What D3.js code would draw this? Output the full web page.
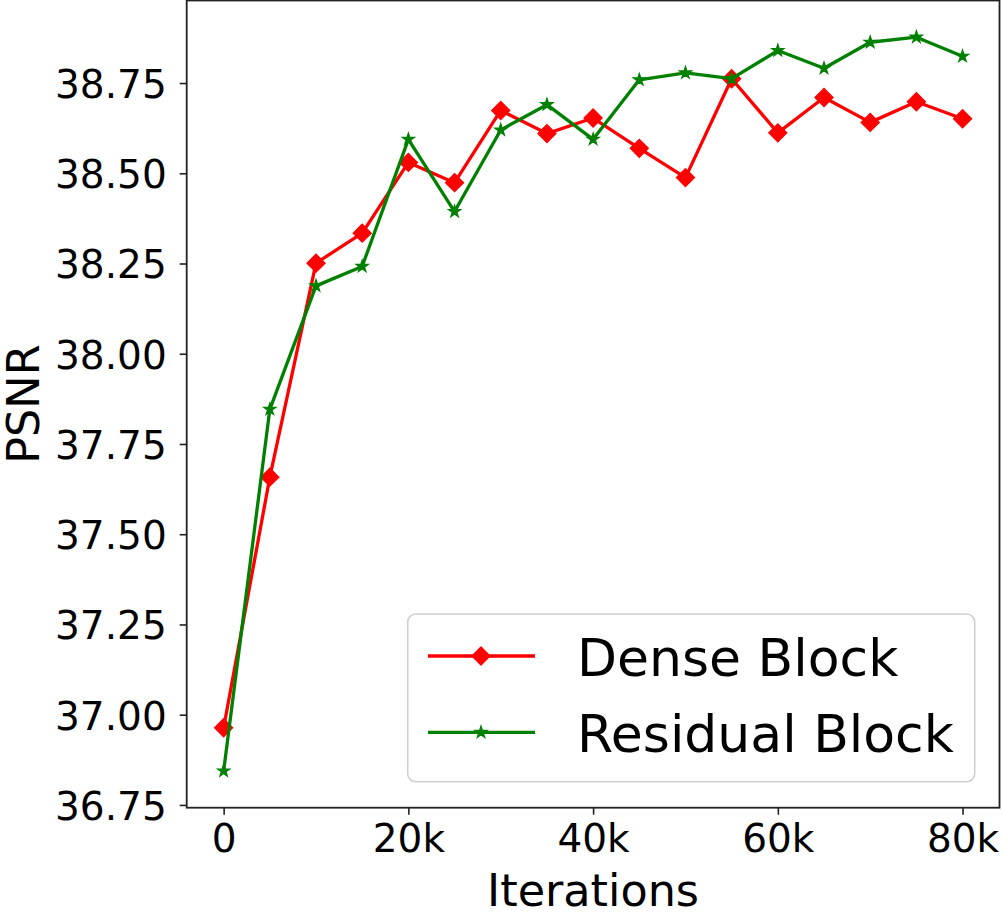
<!DOCTYPE html>
<html lang="en">
<head>
<meta charset="UTF-8">
<title>PSNR vs Iterations</title>
<style>
  body { margin: 0; background: #fff; }
  svg { display: block; font-family: "DejaVu Sans", sans-serif; }
  .tick text { fill: #000; }
</style>
</head>
<body>
<svg width="1002" height="916"></svg>
<script src="https://d3js.org/d3.v7.min.js"></script>
<script>
// iterations (x) and PSNR values
const iterations = [0, 5000, 10000, 15000, 20000, 25000, 30000, 35000, 40000,
                    45000, 50000, 55000, 60000, 65000, 70000, 75000, 80000];
const denseBlock = [36.964, 37.658, 38.251, 38.334, 38.530, 38.474, 38.674, 38.610, 38.653,
                    38.569, 38.488, 38.762, 38.612, 38.710, 38.641, 38.698, 38.651];
const residualBlock = [36.844, 37.846, 38.188, 38.242, 38.594, 38.394, 38.620, 38.690, 38.594,
                       38.759, 38.778, 38.762, 38.840, 38.791, 38.863, 38.877, 38.824];
const xTicks = [0, 20000, 40000, 60000, 80000];
const xTickLabels = ["0", "20k", "40k", "60k", "80k"];
const yTicks = [36.75, 37.00, 37.25, 37.50, 37.75, 38.00, 38.25, 38.50, 38.75];

const series = [
  { name: "Dense Block", values: denseBlock, color: "#ff0000", marker: "diamond" },
  { name: "Residual Block", values: residualBlock, color: "#008000", marker: "star" }
];

const svg = d3.select("svg");
const plotL = 186.7, plotR = 999.5, plotT = 0.5, plotB = 807.7;

// matplotlib style 5% margins
const xPad = (d3.max(iterations) - d3.min(iterations)) * 0.05;
const allY = denseBlock.concat(residualBlock);
const yPad = (d3.max(allY) - d3.min(allY)) * 0.05;

const x = d3.scaleLinear()
  .domain([d3.min(iterations) - xPad, d3.max(iterations) + xPad])
  .range([plotL, plotR]);
const y = d3.scaleLinear()
  .domain([d3.min(allY) - yPad, d3.max(allY) + yPad])
  .range([plotB, plotT]);

// axes
const xAxis = d3.axisBottom(x)
  .tickValues(xTicks)
  .tickFormat((d, i) => xTickLabels[i])
  .tickSize(7).tickPadding(10);
const yAxis = d3.axisLeft(y)
  .tickValues(yTicks)
  .tickFormat(d3.format(".2f"))
  .tickSize(7).tickPadding(13);

const gx = svg.append("g").attr("transform", `translate(0,${plotB})`).call(xAxis);
const gy = svg.append("g").attr("transform", `translate(${plotL},0)`).call(yAxis);
[gx, gy].forEach(g => {
  g.attr("font-family", "DejaVu Sans").attr("font-size", 39);
  g.select(".domain").remove();
  g.selectAll(".tick line").attr("stroke", "#222").attr("stroke-width", 1.6);
});
gx.selectAll(".tick text").attr("dy", "0.71em");
gy.selectAll(".tick text").attr("dy", "0.37em");

// frame
svg.append("rect")
  .attr("x", plotL).attr("y", plotT)
  .attr("width", plotR - plotL).attr("height", plotB - plotT)
  .attr("fill", "none").attr("stroke", "#222").attr("stroke-width", 1.8);

// axis labels
svg.append("text")
  .attr("x", (plotL + plotR) / 2).attr("y", 906)
  .attr("text-anchor", "middle")
  .style("font-size", "44.5px")
  .text("Iterations");
svg.append("text")
  .attr("transform", `translate(39,${(plotT + plotB) / 2}) rotate(-90)`)
  .attr("text-anchor", "middle")
  .style("font-size", "44.5px")
  .text("PSNR");

function markerPath(kind) {
  return kind === "diamond"
    ? d3.symbol(d3.symbolSquare, 165)()
    : d3.symbol(d3.symbolStar, 46)();
}
function markerRot(kind) { return kind === "diamond" ? 45 : 0; }

const line = d3.line()
  .x((d, i) => x(iterations[i]))
  .y(d => y(d));

series.forEach(s => {
  const g = svg.append("g");
  g.append("path")
    .datum(s.values)
    .attr("d", line)
    .attr("fill", "none")
    .attr("stroke", s.color)
    .attr("stroke-width", 3.3)
    .attr("stroke-linejoin", "round");
  g.selectAll("path.mk")
    .data(s.values)
    .join("path")
    .attr("class", "mk")
    .attr("d", markerPath(s.marker))
    .attr("transform", (d, i) => `translate(${x(iterations[i])},${y(d)}) rotate(${markerRot(s.marker)})`)
    .attr("fill", s.color)
    .attr("stroke", s.color)
    .attr("stroke-width", 1.2);
});

// legend
const legend = svg.append("g");
legend.append("rect")
  .attr("x", 407.7).attr("y", 614)
  .attr("width", 567).attr("height", 167.7)
  .attr("rx", 8)
  .attr("fill", "rgba(255,255,255,0.8)")
  .attr("stroke", "#d0d0d0").attr("stroke-width", 1.6);

const rowY = [656, 732.3];
series.forEach((s, i) => {
  const ry = rowY[i];
  legend.append("line")
    .attr("x1", 428).attr("x2", 535)
    .attr("y1", ry).attr("y2", ry)
    .attr("stroke", s.color).attr("stroke-width", 3.3);
  legend.append("path")
    .attr("d", markerPath(s.marker))
    .attr("transform", `translate(481,${ry}) rotate(${markerRot(s.marker)})`)
    .attr("fill", s.color)
    .attr("stroke", s.color)
    .attr("stroke-width", 1.2);
  legend.append("text")
    .attr("x", 577).attr("y", ry + 19.5)
    .style("font-size", "52px")
    .text(s.name);
});
</script>
</body>
</html>
